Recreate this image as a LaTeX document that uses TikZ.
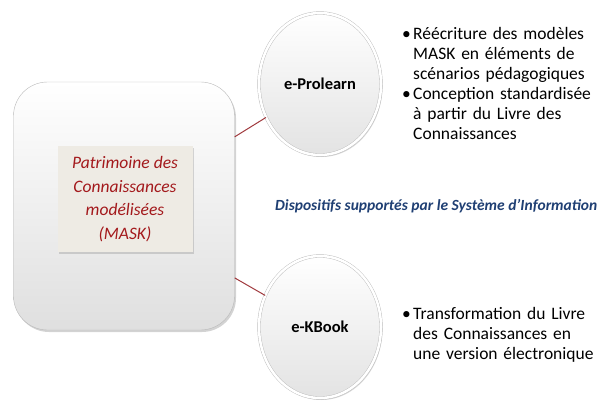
\documentclass[tikz,border=0pt]{standalone}
\usepackage{fontspec}
\setmainfont{Carlito}
\usetikzlibrary{positioning,shapes.geometric,shadows}

\definecolor{rougemask}{HTML}{A3191C}
\definecolor{bleusi}{HTML}{1F3F73}
\definecolor{lienrouge}{HTML}{A0393D}
\definecolor{beigemask}{HTML}{EEEBE4}

\newcommand{\puce}{\par\hangindent=11pt\hangafter=1\noindent\makebox[11pt][l]{\textbullet}}

\begin{document}
\begin{tikzpicture}[x=1pt,y=-1pt,
	cadre/.style={rounded corners=34pt,minimum width=221pt,minimum height=248pt,draw=gray!55,top color=white,bottom color=gray!25,drop shadow={opacity=0.35,shadow xshift=1.5pt,shadow yshift=-2pt}},
	bulle/.style={ellipse,minimum width=122pt,minimum height=142pt,draw=gray!55,double=white,double distance=2.5pt,top color=white,bottom color=gray!22,drop shadow={opacity=0.3,shadow xshift=1.5pt,shadow yshift=-2pt},font=\bfseries\fontsize{16.5}{18}\selectfont},
	puces/.style={text width=200pt,align=left,inner sep=0pt,anchor=north west,font=\fontsize{17.5}{20}\selectfont},
	lien/.style={draw=lienrouge,line width=1pt}]
	\useasboundingbox (0,0) rectangle (599,401);
	
	\node[cadre] (cadre) at (124,206) {};
	\node[minimum width=135pt,minimum height=106pt,fill=beigemask,drop shadow={opacity=0.3,shadow xshift=1pt,shadow yshift=-1.5pt},align=center,text=rougemask,font=\itshape\fontsize{17.5}{23.5}\selectfont] (mask) at (125,199) {Patrimoine des\\Connaissances\\modélisées\\(MASK)};
	
	\node[bulle] (prolearn) at (320,84) {e-Prolearn};
	\node[bulle] (kbook) at (320,327) {e-KBook};
	
	\draw[lien] (cadre.32) -- (prolearn);
	\draw[lien] (cadre.-33) -- (kbook);
	
	\node[puces] (txtprolearn) at (402,19) {\puce Réécriture des modèles\newline MASK en éléments de\newline scénarios pédagogiques\puce Conception standardisée\newline à partir du Livre des\newline Connaissances\par};
	\node[puces] (txtkbook) at (402,299) {\puce Transformation du Livre\newline des Connaissances en\newline une version électronique\par};
	
	\node[anchor=base west,inner sep=0pt,text=bleusi,font=\bfseries\itshape\fontsize{15.5}{18}\selectfont] (si) at (275,210) {Dispositifs supportés par le Système d’Information};
\end{tikzpicture}
\end{document}
